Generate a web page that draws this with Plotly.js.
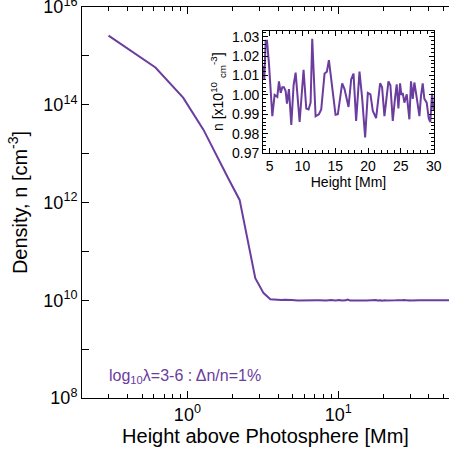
<!DOCTYPE html>
<html>
<head>
<meta charset="utf-8">
<script src="https://cdn.plot.ly/plotly-3.0.1.min.js"></script>
<style>html,body{margin:0;padding:0;background:#fff;overflow:hidden}#chart{width:449px;height:458px}</style>
</head>
<body>
<div id="chart"></div>
<script>
// Main profile: lower atmosphere (height in Mm, density in cm^-3)
const lowHeights = [0.30, 0.614, 0.937, 1.28, 1.88, 2.22, 2.82, 3.20, 3.55];
const lowDensity = [2.6e15, 5.8e14, 1.4e14, 3.06e13, 3.0e12, 1.13e12, 2.83e10, 1.4e10, 1.05e10];

// Coronal part (inset): height in Mm, density in units of 1e10 cm^-3
const insetHeights = [4.00,4.20,4.41,4.61,4.91,5.42,5.77,6.03,6.18,6.43,6.69,6.94,7.19,7.45,7.65,7.95,8.31,8.66,8.97,9.58,
  10.18,10.59,10.94,11.25,11.50,12.01,12.52,12.87,13.38,13.73,14.04,14.54,15.05,15.40,15.76,16.06,16.42,17.03,17.43,17.79,
  18.19,18.70,19.10,19.56,19.97,20.37,20.73,21.23,21.84,22.14,22.50,22.85,23.11,23.41,23.77,24.12,24.37,24.63,24.88,25.08,
  25.29,25.54,25.90,26.30,26.55,26.81,27.06,27.42,27.83,28.07,28.33,28.58,28.94,29.24,29.49,29.75,30.00];
const insetDensity = [1.015,1.008,1.028,1.028,1.016,0.989,1.000,0.999,0.999,1.007,1.001,1.004,1.004,1.002,0.9955,1.003,0.9845,1.005,1.0115,0.986,
  1.013,0.993,0.9925,0.996,1.029,0.989,0.990,0.9925,1.011,1.012,1.018,1.004,0.9897,0.990,0.9986,1.006,1.003,0.9938,1.008,1.011,
  0.9866,1.012,0.9986,0.978,1.001,1.0003,0.9917,0.988,1.006,1.004,0.989,0.9995,1.007,1.005,0.9866,0.9986,1.0055,0.993,1.006,1.000,
  1.001,0.996,1.0003,0.9874,1.007,0.998,1.0064,0.9986,0.989,0.9995,1.006,0.998,0.996,0.988,0.986,1.0007,0.9917];

// Tail beyond the inset range (read as flat ~1e10)
const tailHeights = [35, 40, 45, 50, 55, 60];
const tailDensity = [1.0e10, 1.0e10, 1.0e10, 1.0e10, 1.0e10, 1.0e10];

const yTickVals = [1e8,1e9,1e10,1e11,1e12,1e13,1e14,1e15,1e16];
const yTickText = ['10<sup>8</sup>','','10<sup>10</sup>','','10<sup>12</sup>','','10<sup>14</sup>','','10<sup>16</sup>'];
const xTickVals = [1, 10];
const xTickText = ['10<sup>0</sup>','10<sup>1</sup>'];
const xMinorVals = [0.2,0.3,0.4,0.5,0.6,0.7,0.8,0.9,2,3,4,5,6,7,8,9,20,30,40,50];

const purple = '#6a3d9e';
const FONT = 'Liberation Sans, Arial, Helvetica, sans-serif';

const mainX = lowHeights.concat(insetHeights, tailHeights);
const mainY = lowDensity.concat(insetDensity.map(v => v * 1e10), tailDensity);

const traces = [
  {x: mainX, y: mainY, type: 'scatter', mode: 'lines', line: {color: purple, width: 2}, xaxis: 'x', yaxis: 'y', hoverinfo: 'skip'},
  {x: insetHeights, y: insetDensity, type: 'scatter', mode: 'lines', line: {color: purple, width: 2}, xaxis: 'x2', yaxis: 'y2', hoverinfo: 'skip'}
];

const layout = {
  width: 449, height: 458,
  margin: {l: 82, r: 0, t: 7, b: 60},
  paper_bgcolor: '#fff', plot_bgcolor: 'rgba(0,0,0,0)',
  showlegend: false,
  font: {family: FONT, color: '#000'},
  xaxis: {
    type: 'log', range: [Math.log10(0.2), 1.735], domain: [0, 1],
    tickmode: 'array', tickvals: xTickVals, ticktext: xTickText,
    ticks: 'inside', ticklen: 7, tickwidth: 1, tickcolor: '#000',
    minor: {tickmode: 'array', tickvals: xMinorVals, ticks: 'inside', ticklen: 4, tickcolor: '#000'},
    showline: true, linecolor: '#000', linewidth: 1, mirror: 'ticks',
    showgrid: false, zeroline: false,
    tickfont: {size: 18, family: FONT},
    title: {text: 'Height above Photosphere [Mm]', font: {size: 20, family: FONT}, standoff: 2},
    anchor: 'y'
  },
  yaxis: {
    type: 'log', range: [8, 16.0005], domain: [0, 1],
    tickmode: 'array', tickvals: yTickVals, ticktext: yTickText,
    ticks: 'inside', ticklen: 7, tickwidth: 1, tickcolor: '#000',
    ticklabeloverflow: 'allow',
    showline: true, linecolor: '#000', linewidth: 1, mirror: false,
    showgrid: false, zeroline: false,
    tickfont: {size: 18, family: FONT},
    title: {text: 'Density, n [cm<sup>-3</sup>]', font: {size: 20, family: FONT}, standoff: 10},
    anchor: 'x'
  },
  xaxis2: {
    range: [4, 30.05], domain: [0.4932, 0.9591], anchor: 'y2',
    tickmode: 'array', tickvals: [5,10,15,20,25,30],
    ticks: 'inside', ticklen: 5, tickcolor: '#000',
    minor: {dtick: 1, tick0: 0, ticks: 'inside', ticklen: 2.5, tickcolor: '#000'},
    showline: true, linecolor: '#000', linewidth: 1, mirror: 'allticks',
    showgrid: false, zeroline: false,
    tickfont: {size: 14, family: FONT},
    title: {text: 'Height [Mm]', font: {size: 14, family: FONT}, standoff: 0}
  },
  yaxis2: {
    range: [0.97, 1.033], domain: [0.6266, 0.9386], anchor: 'x2',
    tickmode: 'array', tickvals: [0.97,0.98,0.99,1.00,1.01,1.02,1.03],
    ticktext: ['0.97','0.98','0.99','1.00','1.01','1.02','1.03'],
    ticks: 'inside', ticklen: 5, tickcolor: '#000',
    minor: {dtick: 0.002, tick0: 0.97, ticks: 'inside', ticklen: 2.5, tickcolor: '#000'},
    showline: true, linecolor: '#000', linewidth: 1, mirror: 'allticks',
    showgrid: false, zeroline: false,
    tickfont: {size: 14, family: FONT}
  },
  shapes: [
    {type: 'rect', xref: 'x2 domain', yref: 'y2 domain', x0: 0, x1: 1, y0: 0, y1: 1, fillcolor: '#fff', line: {width: 0}, layer: 'below'}
  ],
  annotations: [
    {text: 'n [x10<sup>10</sup> <sub>cm</sub><sup>-3</sup>]', xref: 'paper', yref: 'paper',
     x: (218 - 82) / 367, y: (398 - 92) / 391, textangle: -90, showarrow: false,
     font: {size: 14, family: FONT, color: '#000'}, xanchor: 'center', yanchor: 'middle'},
    {text: 'log<sub>10</sub>λ=3-6 : Δn/n=1%', xref: 'paper', yref: 'paper',
     x: (107 - 82) / 367, y: (398 - 376) / 391, showarrow: false, xanchor: 'left', yanchor: 'middle',
     font: {size: 16, family: FONT, color: purple}}
  ]
};

Plotly.newPlot('chart', traces, layout, {displayModeBar: false, staticPlot: true});
</script>
</body>
</html>
